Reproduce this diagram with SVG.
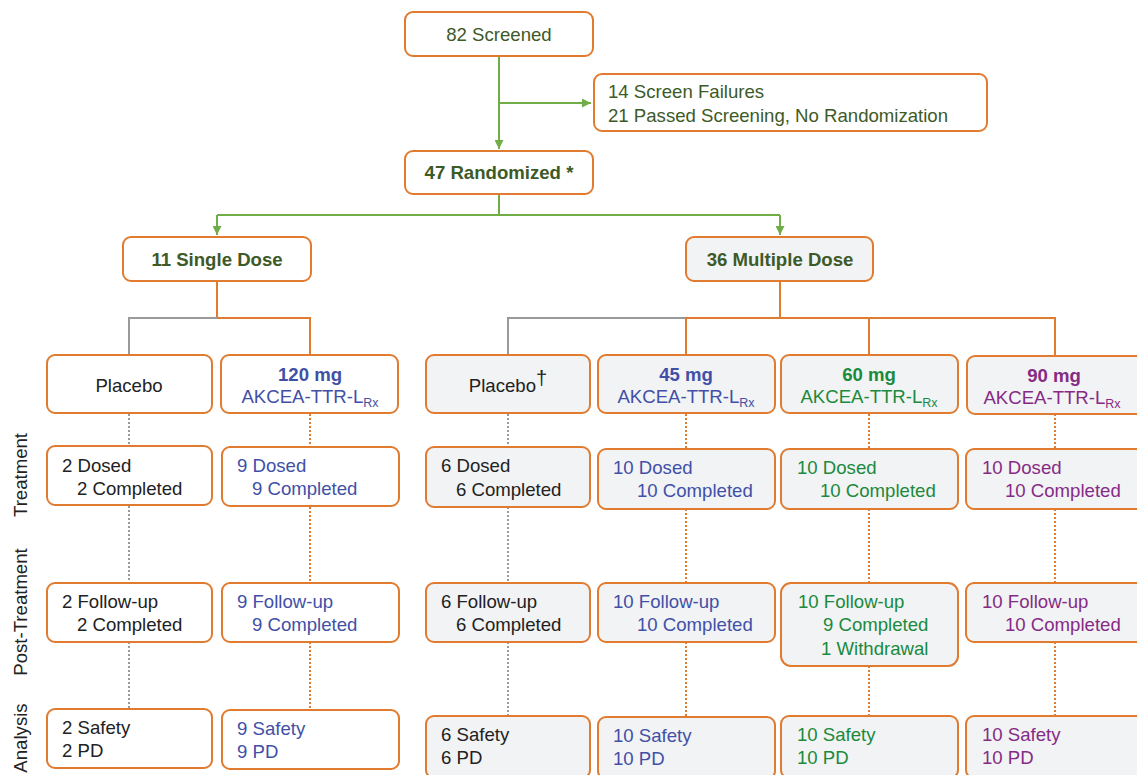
<svg xmlns="http://www.w3.org/2000/svg" width="1137" height="775" viewBox="0 0 1137 775">
<defs>
<marker id="ga" viewBox="0 0 10 10" refX="10" refY="5" markerWidth="9" markerHeight="9" markerUnits="userSpaceOnUse" orient="auto">
<path d="M0,0 L10,5 L0,10 z" fill="#70ad47"/>
</marker>
<style>
text{font-family:"Liberation Sans",Arial,sans-serif;font-size:18.6px}
.b{fill:#fff;stroke:#e07b30;stroke-width:2}
.g{fill:#f2f3f5;stroke:#e07b30;stroke-width:2}
.dg{fill:#3d5a27}
.bk{fill:#222}
.bl{fill:#4150a6}
.gr{fill:#1b8a3c}
.pu{fill:#862b85}
.bo{font-weight:bold}
.c{text-anchor:middle}
.sub{font-size:12.5px}
.dag{font-size:20px}
.gl{stroke:#70ad47;stroke-width:2;fill:none}
.ol{stroke:#e07b30;stroke-width:2;fill:none}
.gyl{stroke:#9a9a9a;stroke-width:2;fill:none}
.od{stroke:#e07b30;stroke-width:2;stroke-dasharray:2 2;fill:none}
.gd{stroke:#9a9a9a;stroke-width:2;stroke-dasharray:2 2;fill:none}
.lab{fill:#222}
</style>
</defs>
<g id="connectors">
<path class="gl" d="M499,56 V149" marker-end="url(#ga)"/>
<path class="gl" d="M499,103 H591" marker-end="url(#ga)"/>
<path class="gl" d="M499,194 V215"/>
<path class="gl" d="M217,215 H780"/>
<path class="gl" d="M217,215 V235" marker-end="url(#ga)"/>
<path class="gl" d="M780,215 V235" marker-end="url(#ga)"/>
<path class="ol" d="M217,281 V318 H310 V355"/>
<path class="gyl" d="M217,318 H129 V355"/>
<path class="ol" d="M780,281 V318"/>
<path class="gyl" d="M686,318 H508 V355"/>
<path class="ol" d="M686,355 V318 H1055 V356"/>
<path class="ol" d="M869,318 V355"/>
<path class="gd" d="M129,414 V446 M129,506 V583 M129,642 V709"/>
<path class="od" d="M310,414 V447 M310,507 V583 M310,642 V710"/>
<path class="gd" d="M508,414 V447 M508,507 V583 M508,642 V716"/>
<path class="od" d="M686,414 V449 M686,509 V583 M686,642 V717"/>
<path class="od" d="M869,414 V449 M869,509 V583 M869,666 V716"/>
<path class="od" d="M1055,414 V449 M1055,509 V583 M1055,642 V716"/>
</g>
<g id="screened"><rect class="b" x="405" y="12" width="188" height="44" rx="8"/><text class="dg c" x="499" y="41">82 Screened</text></g>
<g id="excluded"><rect class="b" x="594" y="74" width="393" height="57" rx="8"/><text class="dg" x="608" y="98">14 Screen Failures</text><text class="dg" x="608" y="122">21 Passed Screening, No Randomization</text></g>
<g id="randomized"><rect class="b" x="405" y="151" width="188" height="43" rx="8"/><text class="dg bo c" x="499" y="179">47 Randomized *</text></g>
<g id="single"><rect class="b" x="123" y="237" width="188" height="44" rx="8"/><text class="dg bo c" x="217" y="266">11 Single Dose</text></g>
<g id="multiple"><rect class="g" x="686" y="237" width="187" height="44" rx="8"/><text class="dg bo c" x="780" y="266">36 Multiple Dose</text></g>

<g id="sd-placebo"><rect class="b" x="47" y="355" width="165" height="58" rx="8"/><text class="bk c" x="129" y="392">Placebo</text></g>
<g id="sd-120"><rect class="b" x="221" y="355" width="177" height="58" rx="8"/><text class="bl bo c" x="310" y="381">120 mg</text><text class="bl c" x="310" y="403">AKCEA-TTR-L<tspan class="sub" dy="4">Rx</tspan></text></g>
<g id="md-placebo"><rect class="g" x="426" y="355" width="164" height="58" rx="8"/><text class="bk c" x="508" y="392">Placebo<tspan class="dag" dy="-7">†</tspan></text></g>
<g id="md-45"><rect class="g" x="598" y="355" width="177" height="58" rx="8"/><text class="bl bo c" x="686" y="381">45 mg</text><text class="bl c" x="686" y="403">AKCEA-TTR-L<tspan class="sub" dy="4">Rx</tspan></text></g>
<g id="md-60"><rect class="g" x="781" y="355" width="177" height="58" rx="8"/><text class="gr bo c" x="869" y="381">60 mg</text><text class="gr c" x="869" y="403">AKCEA-TTR-L<tspan class="sub" dy="4">Rx</tspan></text></g>
<g id="md-90"><rect class="g" x="967" y="356" width="180" height="58" rx="8"/><text class="pu bo c" x="1054" y="382">90 mg</text><text class="pu c" x="1052" y="404">AKCEA-TTR-L<tspan class="sub" dy="4">Rx</tspan></text></g>

<g id="sd-placebo-trt"><rect class="b" x="47" y="446" width="165" height="59" rx="8"/><text class="bk" x="62" y="472">2 Dosed</text><text class="bk" x="77" y="495">2 Completed</text></g>
<g id="sd-120-trt"><rect class="b" x="222" y="447" width="177" height="59" rx="8"/><text class="bl" x="237" y="472">9 Dosed</text><text class="bl" x="252" y="495">9 Completed</text></g>
<g id="md-placebo-trt"><rect class="g" x="426" y="447" width="164" height="60" rx="8"/><text class="bk" x="441" y="472">6 Dosed</text><text class="bk" x="456" y="496">6 Completed</text></g>
<g id="md-45-trt"><rect class="g" x="598" y="449" width="177" height="60" rx="8"/><text class="bl" x="613" y="474">10 Dosed</text><text class="bl" x="637" y="497">10 Completed</text></g>
<g id="md-60-trt"><rect class="g" x="781" y="449" width="177" height="60" rx="8"/><text class="gr" x="797" y="474">10 Dosed</text><text class="gr" x="820" y="497">10 Completed</text></g>
<g id="md-90-trt"><rect class="g" x="966" y="449" width="180" height="60" rx="8"/><text class="pu" x="982" y="474">10 Dosed</text><text class="pu" x="1005" y="497">10 Completed</text></g>

<g id="sd-placebo-post"><rect class="b" x="47" y="583" width="165" height="59" rx="8"/><text class="bk" x="62" y="608">2 Follow-up</text><text class="bk" x="77" y="631">2 Completed</text></g>
<g id="sd-120-post"><rect class="b" x="222" y="583" width="177" height="59" rx="8"/><text class="bl" x="237" y="608">9 Follow-up</text><text class="bl" x="252" y="631">9 Completed</text></g>
<g id="md-placebo-post"><rect class="g" x="426" y="583" width="164" height="59" rx="8"/><text class="bk" x="441" y="608">6 Follow-up</text><text class="bk" x="456" y="631">6 Completed</text></g>
<g id="md-45-post"><rect class="g" x="598" y="583" width="177" height="59" rx="8"/><text class="bl" x="613" y="608">10 Follow-up</text><text class="bl" x="637" y="631">10 Completed</text></g>
<g id="md-60-post"><rect class="g" x="781" y="583" width="177" height="83" rx="10"/><text class="gr" x="798" y="608">10 Follow-up</text><text class="gr" x="823" y="631">9 Completed</text><text class="gr" x="821" y="655">1 Withdrawal</text></g>
<g id="md-90-post"><rect class="g" x="966" y="583" width="180" height="59" rx="8"/><text class="pu" x="982" y="608">10 Follow-up</text><text class="pu" x="1005" y="631">10 Completed</text></g>

<g id="sd-placebo-an"><rect class="b" x="47" y="709" width="165" height="59" rx="8"/><text class="bk" x="62" y="734">2 Safety</text><text class="bk" x="62" y="757">2 PD</text></g>
<g id="sd-120-an"><rect class="b" x="222" y="710" width="177" height="59" rx="8"/><text class="bl" x="237" y="735">9 Safety</text><text class="bl" x="237" y="758">9 PD</text></g>
<g id="md-placebo-an"><rect class="g" x="426" y="716" width="164" height="62" rx="8"/><text class="bk" x="441" y="741">6 Safety</text><text class="bk" x="441" y="764">6 PD</text></g>
<g id="md-45-an"><rect class="g" x="598" y="717" width="177" height="62" rx="8"/><text class="bl" x="613" y="742">10 Safety</text><text class="bl" x="613" y="765">10 PD</text></g>
<g id="md-60-an"><rect class="g" x="781" y="716" width="177" height="62" rx="8"/><text class="gr" x="797" y="741">10 Safety</text><text class="gr" x="797" y="764">10 PD</text></g>
<g id="md-90-an"><rect class="g" x="966" y="716" width="180" height="62" rx="8"/><text class="pu" x="982" y="741">10 Safety</text><text class="pu" x="982" y="764">10 PD</text></g>

<g id="row-labels">
<text class="lab c" transform="translate(27,475) rotate(-90)">Treatment</text>
<text class="lab c" transform="translate(27,612) rotate(-90)">Post-Treatment</text>
<text class="lab c" transform="translate(27,738) rotate(-90)">Analysis</text>
</g>
</svg>
